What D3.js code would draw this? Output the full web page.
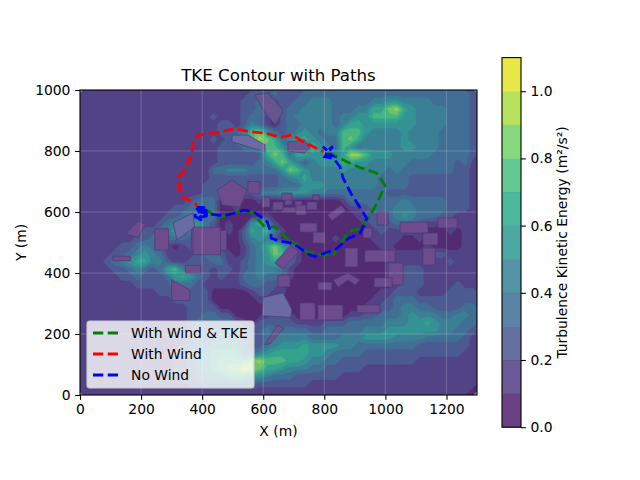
<!DOCTYPE html>
<html><head><meta charset="utf-8">
<script src="https://cdn.jsdelivr.net/npm/d3@7"></script>
<style>html,body{margin:0;padding:0;background:#fff}text{font-family:"DejaVu Sans",sans-serif;fill:#000}</style>
</head><body><svg id="c" width="640" height="480"></svg>
<script>
const xTicks=[0,200,400,600,800,1000,1200];
const yTicks=[0,200,400,600,800,1000];
const cbTicks=[0,0.2,0.4,0.6,0.8,1.0];
const levels=[0,0.1,0.2,0.3,0.4,0.5,0.6,0.7,0.8,0.9,1.0,1.1];
const tkeRows=[
"1111111111 1111111111 1122232223 3333333333 3333333333 32",
"1111111111 1111111111 1223312233 4443333344 5544443333 32",
"1111111111 1111111111 1223202334 4443334466 8965444433 32",
"1111111111 1111111211 1233102344 4443445577 7755444433 32",
"1111111111 1111111122 1243102334 4443466555 5555444433 32",
"1111111111 1111111122 2478532345 4344777544 4454444333 32",
"1111111111 1111111212 3479863466 5433786444 4454444333 32",
"1111111111 1111111122 2335775345 7543753444 4455444333 32",
"1111111111 1111111122 2222687366 5544699755 5444443333 32",
"1111111111 1111111122 2223468642 4555665544 4443333332 31",
"1111111111 1111111334 4433335875 4444544444 3433333332 21",
"1111111111 1111111222 2222223456 4444444443 3332222222 21",
"1111111111 1111112222 2222223335 5544444443 3332222222 21",
"1111111111 1111112232 2223445555 4433333333 2222222222 21",
"1111111111 1111233300 1001000100 0000133333 3343333322 21",
"1111111111 1122333300 1000010000 0000011233 3444333322 21",
"1111111111 1223443300 0000100000 0000001223 3454333221 11",
"1111111111 2344553201 0056510000 0000000122 2333211011 11",
"1111111122 3454443201 0265731000 0000000012 1111100010 11",
"1111111223 4333243200 0245420000 0001000011 1100100000 11",
"1111122343 3101232310 0134686310 0000000001 1000010000 11",
"1111223454 3111123321 0134587410 0000000000 1111112211 11",
"1112345664 4211222331 1234565310 0000000000 1111111121 11",
"1111223432 3674322122 1234443100 0000000000 1122211111 11",
"1111122322 2356532121 1334332100 0000000000 1122211111 11",
"1111111222 2243321111 1233221000 0000000000 0122211112 11",
"1111111111 2233222000 0012211000 0000000001 1222111122 22",
"1111111111 1122222000 0001110000 0000000011 2333222222 22",
"1111111111 1111222200 0000021000 0000000112 2344332222 33",
"1111111111 1111223322 0000122100 0000011223 3345444334 43",
"1111111111 1111233333 2102222211 1122233333 4445565444 33",
"1111111111 1111233344 3222433333 2233333444 5555555443 32",
"1111111111 1111233444 4322344444 3333444555 5444433333 21",
"1111111111 1112334555 5322345556 5555443333 3333222222 21",
"1111111111 1122345666 6334566666 5543333222 2222222222 11",
"1111111111 1122345677 7789777665 4433222222 2222111111 11",
"1111111111 1122345678 8A98665444 3322222111 1111111111 11",
"1111111111 1112234556 7655433322 2222111111 1111111111 11",
"1111111111 1111223333 3332222222 1111111111 1111111111 11",
"1111111111 1111111111 1111111111 1111111111 1111111111 10"
];
const buildings=[
[1,868,482,910,420],[1,933,475,1032,436],[1,1009,433,1058,361],[1,963,384,1022,354],[1,779,370,825,344],
[1,829,377,878,400,917,377,901,361,878,377,845,354],[1,907,295,983,269],[1,779,295,861,246],[1,720,302,770,246],
[1,1123,482,1163,426],[1,1048,567,1140,531],[1,1172,580,1235,548],[1,1123,531,1172,492],[1,973,600,1009,557],[1,927,548,956,515],
[1,743,633,776,607],[1,704,636,727,616],[1,671,649,694,623],[1,763,656,783,639],[1,661,616,711,600],[1,720,564,776,534],[1,763,534,802,498],
[1,810,590,855,622,870,605,825,572],
[1,449,672,498,705,547,672,524,616,465,623],[1,596,649,622,616],[1,632,633,665,607],[1,661,662,694,639],[1,707,623,740,590],[1,550,700,590,660],
[1,365,540,480,540,480,475,365,475],[1,638,433,690,490,717,470,665,413],[1,648,393,688,354],
[3,305,564,370,597,376,551,318,508],[3,596,260,600,320,665,335,694,280,690,255],
[2,605,165,625,170,668,220,645,228],
[3,498,852,550,852,606,820,606,797,498,830],[2,681,830,735,836,753,810,735,793,681,800],
[2,573,984,616,990,665,934,639,885,600,934],
[1,150,530,190,570,215,560,190,515],[1,108,455,165,440],[1,300,378,360,345,360,310,300,310],[1,245,545,290,475],[1,345,425,395,400],[1,370,550,460,460]
];
const buildingTones=["#5c3a7c","#6d4b8d","#66558f","#6b6ba3"];
const withWindTke=[[813,795],[873,765],[917,746],[972,727],[999,688],[982,650],[966,617],[944,579],[933,568],[917,546],[890,539],[868,519],[857,503],[829,459],[797,459],[742,470],[709,492],[677,513],[638,552],[606,550],[584,574],[562,598],[529,606],[491,593],[453,582],[415,606],[395,600]];
const withWind=[[395,601],[377,628],[344,645],[327,667],[325,688],[322,714],[344,738],[355,765],[366,787],[371,831],[388,852],[448,860],[508,874],[557,863],[611,858],[655,845],[693,852],[731,831],[764,814],[797,798]];
const noWind=[[395,600],[415,595],[412,580],[395,575],[378,585],[376,600],[388,615],[405,615],[417,600],[405,585],[392,585],[385,598],[395,608],[408,600],[400,592],[392,598],[405,610],[426,593],[469,587],[502,595],[535,606],[567,601],[595,582],[613,568],[622,541],[627,514],[649,506],[688,499],[715,486],[742,464],[769,453],[808,468],[835,475],[879,513],[917,530],[933,563],[939,579],[922,607],[890,656],[862,710],[851,749],[830,776],[802,781],[828,815],[810,800],[795,815],[826,785],[800,792]];
const legendLabels=["With Wind & TKE","With Wind","No Wind"];
const pathColors=["green","red","blue"];

const svg=d3.select("#c");
const x=d3.scaleLinear().domain([0,1300]).range([80,477]);
const y=d3.scaleLinear().domain([0,1000]).range([395,90]);
const cbY=d3.scaleLinear().domain([0,1.1]).range([427.2,57.6]);
const bandColor=i=>d3.interpolateViridis((i+0.5)/11);
const grid=tkeRows.map(r=>r.replace(/ /g,"").split("").map(c=>parseInt(c,16)));
const nr=grid.length,nc=grid[0].length,cell=25;
const vals=[];for(let r=0;r<nr;r++)for(let c=0;c<nc;c++)vals.push((grid[r][c]+0.5)*0.1);
svg.append("clipPath").attr("id","pa").append("rect").attr("x",80).attr("y",90).attr("width",397).attr("height",305);
const plot=svg.append("g").attr("clip-path","url(#pa)");
plot.append("rect").attr("x",80).attr("y",90).attr("width",397).attr("height",305).attr("fill","#8098b0");
const tkeG=plot.append("g").attr("opacity",0.8);
const cons=d3.contours().size([nc,nr]).thresholds(levels.slice(0,-1))(vals);
const tf=d3.geoTransform({point(a,b){this.stream.point(x(a*cell),y(1000-b*cell));}});
const gp=d3.geoPath(tf);
tkeG.selectAll("path.c").data(cons).join("path").attr("class","c").attr("d",gp)
 .attr("fill",(d,i)=>bandColor(i)).attr("stroke",(d,i)=>bandColor(i)).attr("stroke-width",0.3);
const bLine=d3.line().x(d=>x(d[0])).y(d=>y(d[1]));
function poly(b){const p=b.slice(1);if(p.length===4)return[[p[0],p[1]],[p[2],p[1]],[p[2],p[3]],[p[0],p[3]]];
 const o=[];for(let i=0;i<p.length;i+=2)o.push([p[i],p[i+1]]);return o;}
plot.selectAll("path.b").data(buildings).join("path").attr("class","b")
 .attr("d",b=>bLine(poly(b))+"Z").attr("fill",b=>buildingTones[b[0]]).attr("stroke","#4a3a78").attr("stroke-width",0.7);
const gg=plot.append("g");
gg.selectAll("line.v").data(xTicks.slice(1)).join("line").attr("x1",d=>x(d)).attr("x2",d=>x(d)).attr("y1",90).attr("y2",395).attr("stroke","#fff").attr("stroke-opacity",0.2).attr("stroke-width",1);
gg.selectAll("line.h").data(yTicks.slice(1,-1)).join("line").attr("y1",d=>y(d)).attr("y2",d=>y(d)).attr("x1",80).attr("x2",477).attr("stroke","#fff").attr("stroke-opacity",0.2).attr("stroke-width",1);
const lineGen=d3.line().x(d=>x(d[0])).y(d=>y(d[1]));
[withWindTke,withWind,noWind].forEach((s,i)=>{
 plot.append("path").attr("d",lineGen(s)).attr("fill","none").attr("stroke",pathColors[i]).attr("stroke-width",2.78).attr("stroke-dasharray","10.3,4.4");
});
const fs=13.89;
const ax=svg.append("g").attr("transform","translate(0,395)").call(d3.axisBottom(x).tickValues(xTicks).tickFormat(d3.format("d")).tickSize(4.86).tickPadding(4.7));
const ay=svg.append("g").attr("transform","translate(80,0)").call(d3.axisLeft(y).tickValues(yTicks).tickFormat(d3.format("d")).tickSize(4.86).tickPadding(4.7));
[ax,ay].forEach(a=>{a.select(".domain").remove();a.selectAll("text").style("font-size",fs+"px").style("font-family","DejaVu Sans");a.selectAll("line").attr("stroke","#000").attr("stroke-width",1.1);});
svg.append("rect").attr("x",80).attr("y",90).attr("width",397).attr("height",305).attr("fill","none").attr("stroke","#000").attr("stroke-width",1.1);
svg.append("text").attr("x",278.5).attr("y",81).attr("text-anchor","middle").style("font-size","16.67px").text("TKE Contour with Paths");
svg.append("text").attr("x",278.5).attr("y",436).attr("text-anchor","middle").style("font-size",fs+"px").text("X (m)");
svg.append("text").attr("transform","translate(26,242.5) rotate(-90)").attr("text-anchor","middle").style("font-size",fs+"px").text("Y (m)");
const lg=svg.append("g");
lg.append("rect").attr("x",87).attr("y",321).attr("width",167).attr("height",67).attr("rx",3).attr("fill","#fff").attr("fill-opacity",0.8).attr("stroke","#ccc").attr("stroke-width",1.1);
legendLabels.forEach((t,i)=>{
 const yy=333+i*21;
 lg.append("line").attr("x1",93).attr("x2",119).attr("y1",yy).attr("y2",yy).attr("stroke",pathColors[i]).attr("stroke-width",2.78).attr("stroke-dasharray","10.3,4.4");
 lg.append("text").attr("x",131).attr("y",yy+4.8).style("font-size",fs+"px").text(t);
});
const cb=svg.append("g");
cb.selectAll("rect").data(d3.range(11)).join("rect").attr("x",502).attr("width",19)
 .attr("y",i=>cbY(levels[i+1])).attr("height",i=>cbY(levels[i])-cbY(levels[i+1])+0.3).attr("fill",i=>bandColor(i)).attr("fill-opacity",0.8);
const cbA=svg.append("g").attr("transform","translate(521,0)").call(d3.axisRight(cbY).tickValues(cbTicks).tickFormat(d3.format(".1f")).tickSize(4.86).tickPadding(4.7));
cbA.select(".domain").remove();cbA.selectAll("text").style("font-size",fs+"px").style("font-family","DejaVu Sans");cbA.selectAll("line").attr("stroke","#000").attr("stroke-width",1.1);
svg.append("rect").attr("x",502).attr("y",57.6).attr("width",19).attr("height",369.6).attr("fill","none").attr("stroke","#000").attr("stroke-width",1.1);
svg.append("text").attr("transform","translate(567,242.5) rotate(-90)").attr("text-anchor","middle").style("font-size",fs+"px").text("Turbulence Kinetic Energy (m²/s²)");
</script></body></html>
